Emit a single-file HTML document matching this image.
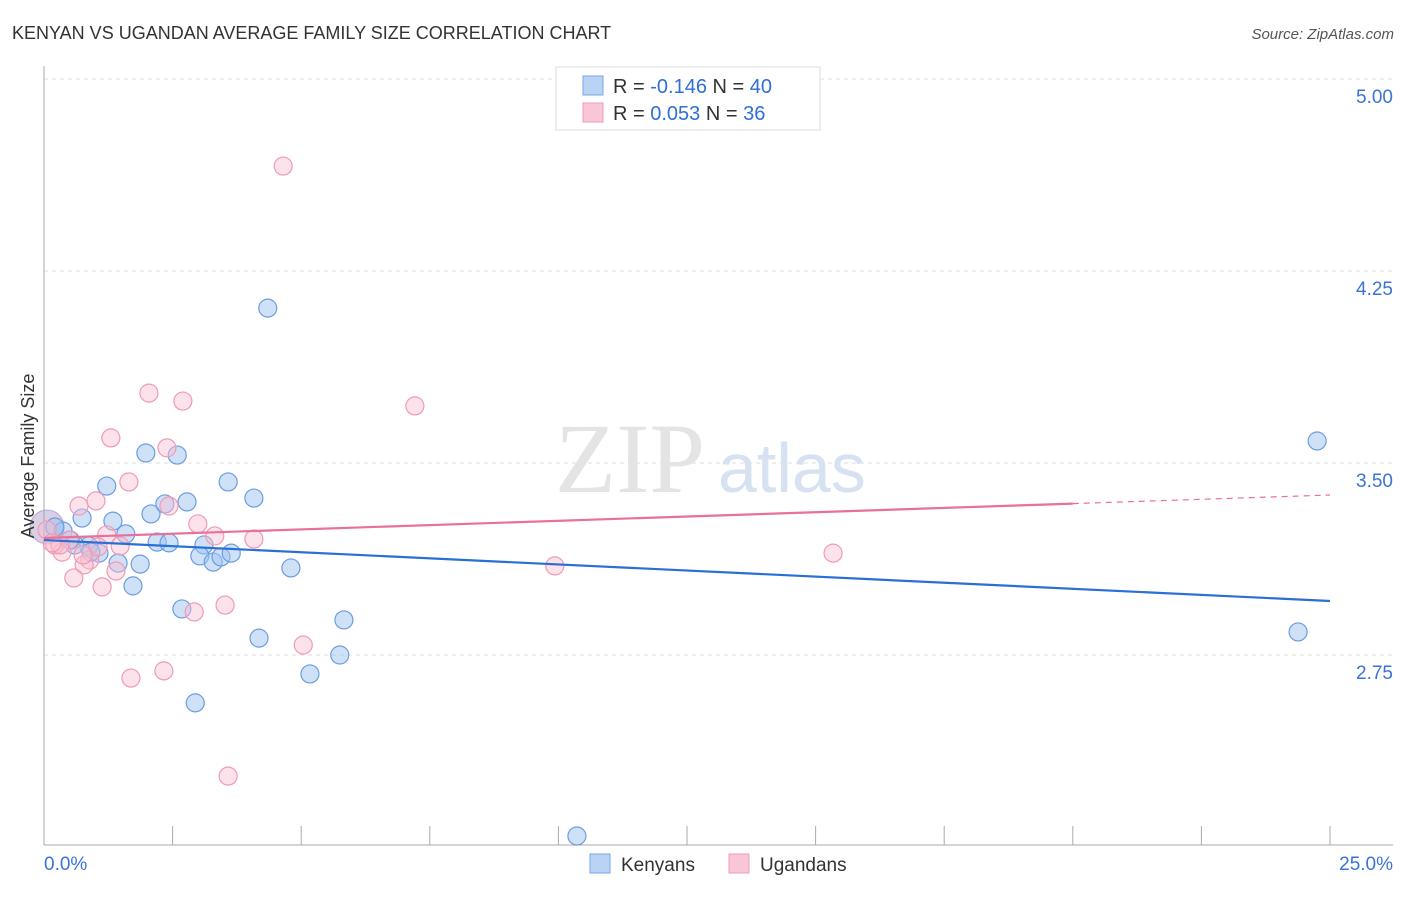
<!DOCTYPE html>
<html><head><meta charset="utf-8"><style>
body{margin:0;background:#fff;font-family:"Liberation Sans",sans-serif}
</style></head><body>
<svg width="1406" height="892" xmlns="http://www.w3.org/2000/svg" font-family="Liberation Sans, sans-serif">
<text x="12" y="39" font-size="18" fill="#333">KENYAN VS UGANDAN AVERAGE FAMILY SIZE CORRELATION CHART</text>
<text x="1394" y="39" font-size="15" fill="#555" font-style="italic" text-anchor="end">Source: ZipAtlas.com</text>
<g id="grid"></g>
<g id="axes"></g>
<text x="555" y="492" font-size="100" fill="#e4e4e4" font-family="Liberation Serif, serif">ZIP</text>
<text x="718" y="492" font-size="70" fill="#d6e2f2">atlas</text>
<g id="pts"></g>
<g id="lines"></g>
<text transform="translate(34,456) rotate(-90)" font-size="18" fill="#333" text-anchor="middle">Average Family Size</text>
<g>
<rect x="556" y="67" width="264" height="63" fill="#fff" stroke="#ddd"/>
<rect x="583" y="76" width="20" height="19" fill="#b9d3f5" stroke="#7aa6e6"/>
<rect x="583" y="103" width="20" height="19" fill="#f9c6d6" stroke="#f09ab5"/>
<text x="613" y="93" font-size="20" fill="#333">R = <tspan fill="#2f6fd8">-0.146</tspan>   N = <tspan fill="#2f6fd8">40</tspan></text>
<text x="613" y="120" font-size="20" fill="#333">R =  <tspan fill="#2f6fd8">0.053</tspan>   N =  <tspan fill="#2f6fd8">36</tspan></text>
</g>
<g>
<rect x="590" y="854" width="20" height="19" fill="#b9d3f5" stroke="#7aa6e6"/>
<text x="621" y="871" font-size="19" fill="#333">Kenyans</text>
<rect x="729" y="854" width="20" height="19" fill="#f9c6d6" stroke="#f09ab5"/>
<text x="760" y="871" font-size="19" fill="#333">Ugandans</text>
</g>
</svg>
<script>
const yTicks=[5.00,4.25,3.50,2.75];
const yTickLabels=["5.00","4.25","3.50","2.75"];
const xTickLabels=["0.0%","25.0%"];
const blueX=[0.74,1.22,1.34,1.59,1.98,2.08,2.35,2.59,2.78,2.20,2.43,2.68,2.94,3.11,3.03,3.29,3.44,3.64,3.58,4.08,4.35,4.18,4.80,5.17,5.75,5.83,1.44,1.87,1.73,1.07,0.87,0.60,0.37,0.21,10.36,24.75,24.38,0.51,0.91];
const blueY=[3.285,3.410,3.273,3.223,3.539,3.301,3.340,3.531,3.348,3.191,3.188,2.930,2.563,3.180,3.137,3.113,3.133,3.148,3.426,3.363,4.105,2.816,3.090,2.676,2.750,2.887,3.109,3.105,3.020,3.148,3.176,3.180,3.234,3.250,2.043,3.586,2.840,3.199,3.152];
const pinkX=[4.65,2.04,2.70,7.21,1.30,2.39,1.65,1.01,0.68,2.43,2.99,3.32,4.08,1.22,0.49,0.35,0.21,0.89,0.78,1.40,0.58,1.13,2.92,3.52,5.04,2.33,1.69,3.58,9.93,15.34,0.06,0.31,1.48,1.05,0.76,0.16];
const pinkY=[4.660,3.773,3.742,3.723,3.598,3.559,3.426,3.352,3.332,3.332,3.262,3.215,3.203,3.219,3.199,3.152,3.180,3.121,3.102,3.078,3.051,3.016,2.918,2.945,2.789,2.688,2.660,2.277,3.098,3.148,3.238,3.180,3.176,3.172,3.141,3.188];
const blueTrend=[3.199,2.961];
const pinkTrend=[3.207,3.375];
const NS="http://www.w3.org/2000/svg";
const sx=v=>44+v*51.44, sy=v=>79+(5-v)*256;
function mk(t,a,p){const e=document.createElementNS(NS,t);for(const k in a)e.setAttribute(k,a[k]);document.getElementById(p).appendChild(e);return e;}
yTicks.forEach((t,i)=>{
 const l=mk('line',{x1:44,x2:1393,y1:sy(t),y2:sy(t),stroke:'#ddd','stroke-dasharray':'4,4'},'grid');
 
 
 const tx=mk('text',{x:1393,y:sy(t)+24,'font-size':19,fill:'#3b73d6','text-anchor':'end'},'grid');
 tx.textContent=yTickLabels[i];
 
 
});
mk('line',{x1:44,x2:44,y1:66,y2:845,stroke:'#aaa'},'axes');
mk('line',{x1:44,x2:1393,y1:845,y2:845,stroke:'#aaa'},'axes');
for(let i=0;i<=10;i++){const x=sx(i*2.5);mk('line',{x1:x,x2:x,y1:826,y2:845,stroke:'#aaa'},'axes');}
[[0,'start'],[25,'end']].forEach((d,i)=>{const t=mk('text',{x:i?1393:44,y:870,'font-size':19,fill:'#3b73d6','text-anchor':d[1]},'axes');t.textContent=xTickLabels[i];
 
 });
const big=mk('circle',{cx:sx(0.06),cy:sy(3.25),r:17,fill:'rgba(170,150,200,0.45)',stroke:'rgba(150,130,190,0.6)'},'pts');


blueX.forEach((x,i)=>{const c=mk('circle',{cx:sx(x),cy:sy(blueY[i]),r:9,fill:'rgba(160,196,240,0.5)',stroke:'#6b9de0','stroke-width':1.2},'pts');
 
 });
pinkX.forEach((x,i)=>{const c=mk('circle',{cx:sx(x),cy:sy(pinkY[i]),r:9,fill:'rgba(248,190,208,0.45)',stroke:'#f09ab5','stroke-width':1.2},'pts');
 
 });
const bl=mk('line',{x1:sx(0),y1:sy(blueTrend[0]),x2:sx(25),y2:sy(blueTrend[1]),stroke:'#2a6fd6','stroke-width':2.2},'lines');


const p20=pinkTrend[0]+(pinkTrend[1]-pinkTrend[0])*0.8;
const pl=mk('line',{x1:sx(0),y1:sy(pinkTrend[0]),x2:sx(20),y2:sy(p20),stroke:'#e8709a','stroke-width':2.2},'lines');


const pd=mk('line',{x1:sx(20),y1:sy(p20),x2:sx(25),y2:sy(pinkTrend[1]),stroke:'#e8709a','stroke-width':1.2,'stroke-dasharray':'6,5'},'lines');


</script>
</body></html>
